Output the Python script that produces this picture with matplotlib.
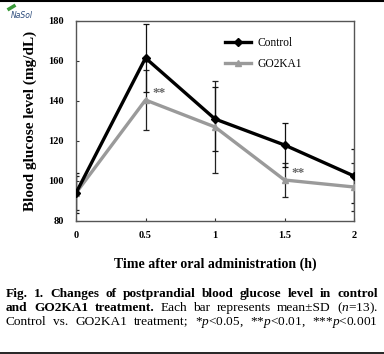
import matplotlib
matplotlib.use("Agg")
import matplotlib.pyplot as plt
from matplotlib.lines import Line2D

plt.rcParams['font.family'] = ['Liberation Serif', 'DejaVu Serif']
plt.rcParams['mathtext.fontset'] = 'custom'
plt.rcParams['mathtext.rm'] = 'Liberation Serif'
plt.rcParams['mathtext.it'] = 'Liberation Serif:italic'
plt.rcParams['mathtext.bf'] = 'Liberation Serif:bold'

time_h = [0, 0.5, 1, 1.5, 2]
control_mean = [94, 161.5, 131, 118, 102.5]
control_sd = [10, 16.8, 16, 11, 13.5]
go2ka1_mean = [94, 140.5, 127, 100.5, 97]
go2ka1_sd = [8.5, 15, 23, 8.5, 12]
xticks = [0, 0.5, 1, 1.5, 2]
xtick_labels = ["0", "0.5", "1", "1.5", "2"]
yticks = [80, 100, 120, 140, 160, 180]
sig_points = [(0.5, 140.5, "**"), (1.5, 100.5, "**")]

caption_lines = [
    [("Fig.", True), ("1.", True), ("Changes", True), ("of", True),
     ("postprandial", True), ("blood", True), ("glucose", True),
     ("level", True), ("in", True), ("control", True)],
    [("and", True), ("GO2KA1", True), ("treatment.", True), ("Each", False),
     ("bar", False), ("represents", False), ("mean±SD", False),
     ("($n$=13).", False)],
    [("Control", False), ("vs.", False), ("GO2KA1", False),
     ("treatment;", False), ("*$p$<0.05,", False), ("**$p$<0.01,", False),
     ("***$p$<0.001", False)],
]

W, H = 384, 354
fig = plt.figure(figsize=(W / 100, H / 100), dpi=100)
ax = fig.add_axes([76 / W, 1 - 221 / H, (354 - 76) / W, (221 - 21) / H])

gray = '#9a9a9a'
ax.errorbar(time_h, go2ka1_mean, yerr=go2ka1_sd, fmt='none', ecolor='#222222',
            elinewidth=0.9, capsize=2, capthick=0.9, zorder=2)
ax.errorbar(time_h, control_mean, yerr=control_sd, fmt='none', ecolor='#111111',
            elinewidth=0.9, capsize=2, capthick=0.9, zorder=2)
ax.plot(time_h, control_mean, color='black', lw=2.4, marker='D', ms=4.5,
        label='Control', zorder=4)
ax.plot(time_h, go2ka1_mean, color=gray, lw=2.4, marker='^', ms=5,
        label='GO2KA1', zorder=3)

for x, y, s in sig_points:
    ax.text(x + 0.05, y + 3.5, s, color='#666666', fontsize=9.5,
            fontweight='bold', ha='left', va='center')

ax.set_xlim(0, 2)
ax.set_ylim(80, 180)
ax.set_xticks(xticks)
ax.set_xticklabels(xtick_labels)
ax.set_yticks(yticks)
ax.tick_params(axis='both', direction='in', length=2.5, width=0.8,
               labelsize=7.5, colors='#333333')
ax.tick_params(axis='x', pad=7)
ax.tick_params(axis='y', pad=9)
for lab in ax.get_xticklabels() + ax.get_yticklabels():
    lab.set_fontweight('bold')
    lab.set_color('black')
for sp in ax.spines.values():
    sp.set_color('#555555')
    sp.set_linewidth(1.0)

ax.set_xlabel('Time after oral administration (h)', fontsize=10,
              fontweight='bold', labelpad=13)
ax.set_ylabel('Blood glucose level (mg/dL)', fontsize=11,
              fontweight='bold', labelpad=8)

leg = ax.legend(loc='upper left', bbox_to_anchor=(0.5, 0.97), frameon=False,
                fontsize=8.3, handlelength=2.2, handletextpad=0.6,
                labelspacing=0.75)

# caption, justified between x0 and x1 (pixels)
fs = 9.6
x0, x1 = 6, 378
ys = [294, 308, 322]
renderer = fig.canvas.get_renderer()
for words, yp in zip(caption_lines, ys):
    objs = []
    for w, bold in words:
        t = fig.text(x0 / W, 1 - yp / H, w, fontsize=fs,
                     fontweight='bold' if bold else 'normal',
                     ha='left', va='center')
        objs.append(t)
    widths = [o.get_window_extent(renderer).width for o in objs]
    gap = (x1 - x0 - sum(widths)) / (len(objs) - 1)
    xc = x0
    for o, wd in zip(objs, widths):
        o.set_x(xc / W)
        xc += wd + gap

# logo
fig.text(11 / W, 1 - 16 / H, 'NaSol', fontsize=5.5, style='italic',
         family='DejaVu Sans', color='#2a4a7a', ha='left', va='center')
fig.add_artist(Line2D([9 / W, 14 / W], [1 - 9 / H, 1 - 6 / H],
                      transform=fig.transFigure, color='#3a9a3a', lw=2.5))

# frame lines
fig.add_artist(Line2D([0, 1], [1 - 0.8 / H, 1 - 0.8 / H],
                      transform=fig.transFigure, color='black', lw=1.5))
fig.add_artist(Line2D([0, 1], [1 - 352.5 / H, 1 - 352.5 / H],
                      transform=fig.transFigure, color='black', lw=1.2))

fig.savefig('out.png', dpi=100, facecolor='white')
